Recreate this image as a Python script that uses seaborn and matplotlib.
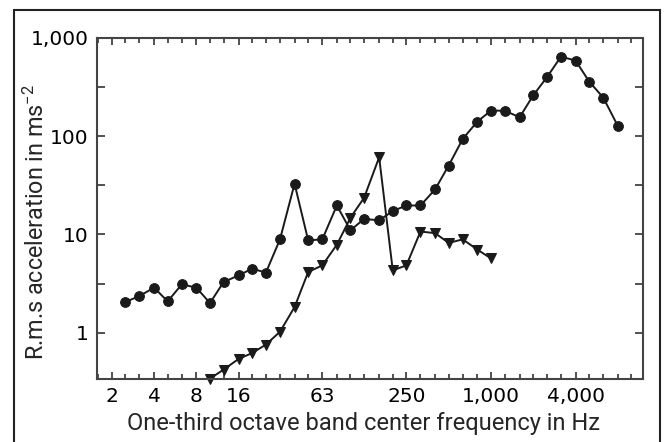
import numpy as np
import pandas as pd
import matplotlib
matplotlib.use("Agg")
import matplotlib.pyplot as plt
import seaborn as sns
from matplotlib.ticker import FixedLocator, NullFormatter
from matplotlib.patches import Rectangle

# one-third octave band centre frequencies (Hz)
freq_circle = [2.5, 3.15, 4, 5, 6.3, 8, 10, 12.5, 16, 20, 25, 31.5, 40, 50, 63, 80,
               100, 125, 160, 200, 250, 315, 400, 500, 630, 800, 1000, 1250, 1600,
               2000, 2500, 3150, 4000, 5000, 6300, 8000]
acc_circle = [2.05, 2.36, 2.87, 2.08, 3.1, 2.87, 2.0, 3.27, 3.83, 4.48, 4.08, 8.9,
              32.8, 8.7, 8.9, 19.7, 11.0, 14.4, 13.9, 17.3, 19.7, 19.7, 28.7, 50.3,
              94, 141, 182, 182, 156, 261, 398, 646, 589, 360, 247, 127]

freq_tri = [10, 12.5, 16, 20, 25, 31.5, 40, 50, 63, 80, 100, 125, 160, 200, 250,
            315, 400, 500, 630, 800, 1000]
acc_tri = [0.34, 0.42, 0.54, 0.62, 0.755, 1.02, 1.82, 4.14, 4.84, 7.85, 14.8, 23.6,
           61, 4.3, 4.84, 10.7, 10.3, 8.2, 8.9, 7.0, 5.7]

band_ticks = [1.6, 2, 2.5, 3.15, 4, 5, 6.3, 8, 10, 12.5, 16, 20, 25, 31.5, 40, 50, 63,
              80, 100, 125, 160, 200, 250, 315, 400, 500, 630, 800, 1000, 1250, 1600,
              2000, 2500, 3150, 4000, 5000, 6300, 8000, 10000]
x_labels = [2, 4, 8, 16, 63, 250, 1000, 4000]
x_label_text = ["2", "4", "8", "16", "63", "250", "1,000", "4,000"]
y_major = [1, 10, 100, 1000]
y_major_text = ["1", "10", "100", "1,000"]
y_minor = [3.16, 31.6, 316]

df_c = pd.DataFrame({"f": freq_circle, "a": acc_circle})
df_t = pd.DataFrame({"f": freq_tri, "a": acc_tri})

sns.set_style("ticks")
plt.rcParams["font.family"] = ["DejaVu Sans"]
plt.rcParams["mathtext.fontset"] = "custom"
plt.rcParams["mathtext.rm"] = "Roboto"
plt.rcParams["mathtext.it"] = "Roboto:italic"
plt.rcParams["mathtext.bf"] = "Roboto:bold"
plt.rcParams["mathtext.default"] = "rm"

fig = plt.figure(figsize=(6.65, 4.42), dpi=100)
ax = fig.add_axes([97 / 665, 1 - 379 / 442, (643 - 97) / 665, (379 - 38) / 442])

ink = "#1a1a1a"
sns.lineplot(data=df_c, x="f", y="a", ax=ax, color=ink, lw=1.4, marker="o",
             markersize=7, markeredgecolor=ink, markerfacecolor=ink, clip_on=False)
sns.lineplot(data=df_t, x="f", y="a", ax=ax, color=ink, lw=1.4, marker="v",
             markersize=7.5, markeredgecolor=ink, markerfacecolor=ink, clip_on=False)

ax.set_xscale("log")
ax.set_yscale("log")
ax.set_xlim(1.57, 12080)
ax.set_ylim(0.337, 1000)

ax.xaxis.set_major_locator(FixedLocator(x_labels))
ax.set_xticklabels(x_label_text)
ax.xaxis.set_minor_locator(FixedLocator([t for t in band_ticks if t not in x_labels]))
ax.xaxis.set_minor_formatter(NullFormatter())
ax.yaxis.set_major_locator(FixedLocator(y_major))
ax.set_yticklabels(y_major_text)
ax.yaxis.set_minor_locator(FixedLocator(y_minor))
ax.yaxis.set_minor_formatter(NullFormatter())

ax.tick_params(axis="both", which="both", direction="in", top=True, right=True,
               color="#333333", width=1.2, labelsize=14.5, pad=6, labelcolor="black")
ax.tick_params(axis="x", which="major", length=5)
ax.tick_params(axis="x", which="minor", length=3.5)
ax.tick_params(axis="y", which="both", length=6)

for s in ax.spines.values():
    s.set_color("#444444")
    s.set_linewidth(1.5)

label_font = ["Roboto", "DejaVu Sans"]
ax.set_xlabel("One-third octave band center frequency in Hz", fontsize=17,
              family=label_font)
ax.xaxis.label.set_va("baseline")
ax.xaxis.set_label_coords(0.489, -0.15)
ax.set_ylabel("R.m.s acceleration in ms$^{-2}$", fontsize=16.8, family=label_font)
ax.yaxis.set_label_coords(-0.112, 0.46)
ax.yaxis.label.set_va("center")

fig.patches.append(Rectangle((14 / 665, -0.1), (660 - 14) / 665, 1.1 - 10 / 442,
                             transform=fig.transFigure, fill=False,
                             edgecolor="#222222", linewidth=1.5, zorder=10))

fig.savefig("out.png", dpi=100)
